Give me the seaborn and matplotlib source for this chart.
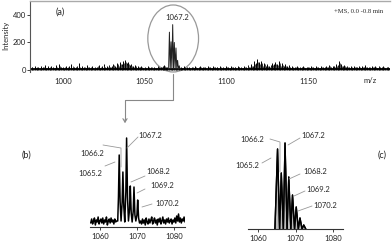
import numpy as np
import pandas as pd
import matplotlib
matplotlib.use("Agg")
import matplotlib.pyplot as plt
from matplotlib.patches import Ellipse, FancyArrowPatch
from matplotlib.lines import Line2D
import seaborn as sns

# ---- data ----
# (a) full scan: baseline noise sticks, every 1 m/z from 980 to 1199
noise_a = [12, 25, 8, 30, 15, 22, 10, 28, 18, 35,
           14, 26, 9, 31, 20, 12, 38, 16, 45, 18,
           22, 10, 30, 14, 26, 40, 12, 24, 18, 30,
           48, 15, 28, 20, 12, 34, 22, 16, 30, 10,
           25, 18, 36, 14, 28, 42, 20, 30, 38, 24,
           32, 45, 28, 50, 36, 55, 40, 62, 72, 48,
           58, 35, 44, 28, 38, 22, 30, 18, 26, 14,
           20, 12, 28, 16, 24, 10, 22, 15, 30, 18,
           25, 30, 38, 22, 18, 8, 6, 5, 6, 8,
           10, 12, 20, 14, 26, 12, 18, 22, 10, 24,
           16, 28, 12, 20, 32, 14, 24, 18, 10, 26,
           20, 14, 30, 18, 24, 12, 28, 16, 22, 14,
           26, 18, 12, 30, 20, 24, 14, 32, 18, 22,
           16, 28, 20, 34, 24, 40, 30, 62, 48, 78,
           55, 66, 40, 52, 30, 44, 28, 36, 48, 40,
           58, 45, 64, 38, 50, 30, 42, 26, 34, 20,
           28, 16, 24, 30, 14, 22, 18, 26, 12, 20,
           24, 14, 30, 18, 12, 26, 20, 16, 28, 22,
           18, 30, 24, 36, 20, 32, 28, 44, 38, 66,
           42, 30, 36, 24, 32, 20, 28, 16, 26, 18,
           22, 30, 14, 26, 20, 34, 18, 24, 12, 28,
           20, 26, 16, 30, 22, 18, 28, 14, 24, 20]
noise_a_mz = np.arange(980, 1200)
# second, offset row of smaller sticks (half-integer m/z)
noise_a2 = [6, 18, 10, 14, 22, 8, 16, 12, 20, 9,
            15, 11, 24, 7, 17, 13, 21, 10, 26, 12,
            8, 19, 14, 22, 9, 16, 28, 11, 18, 13,
            20, 10, 16, 24, 12, 18, 9, 22, 14, 17,
            12, 26, 10, 20, 16, 30, 14, 22, 28, 18,
            26, 34, 20, 40, 28, 44, 30, 50, 56, 36,
            40, 26, 32, 20, 28, 14, 22, 12, 18, 10,
            14, 9, 20, 12, 18, 8, 16, 11, 22, 13,
            18, 22, 28, 16, 12, 6, 4, 4, 5, 6,
            8, 10, 14, 10, 18, 9, 13, 16, 8, 18,
            12, 20, 9, 15, 24, 10, 18, 13, 8, 20,
            15, 10, 22, 13, 18, 9, 20, 12, 16, 10,
            19, 13, 9, 22, 15, 18, 10, 24, 13, 16,
            12, 20, 15, 26, 18, 30, 22, 46, 36, 58,
            42, 50, 30, 40, 22, 32, 20, 26, 36, 30,
            44, 34, 48, 28, 38, 22, 32, 19, 25, 15,
            20, 12, 18, 22, 10, 16, 13, 19, 9, 15,
            18, 10, 22, 13, 9, 19, 15, 12, 20, 16,
            13, 22, 18, 26, 15, 24, 20, 32, 28, 48,
            30, 22, 26, 18, 24, 15, 20, 12, 19, 13,
            16, 22, 10, 19, 15, 25, 13, 18, 9, 20,
            15, 19, 12, 22, 16, 13, 20, 10, 18, 15]
peaks_a_mz = [1064.7, 1065.2, 1065.7, 1066.2, 1066.7, 1067.2, 1067.7, 1068.2,
              1068.7, 1069.2, 1069.7, 1070.2, 1070.7, 1071.2, 1071.7]
peaks_a = [5, 275, 10, 205, 10, 330, 10, 200, 8, 160, 8, 70, 5, 30, 5]

# (b) zoomed experimental profile
noise_b_left_mz = np.arange(1057.5, 1064.6, 0.25)
noise_b_left = [4, 8, 3, 6, 9, 2, 7, 5, 10, 3, 6, 8, 4, 9, 3, 7,
                5, 10, 2, 6, 8, 4, 9, 5, 7, 3, 8, 5, 6]
peaks_b_mz = [1064.8, 1065.0, 1065.2, 1065.45, 1065.7, 1066.0, 1066.2, 1066.45,
              1066.7, 1067.0, 1067.2, 1067.45, 1067.7, 1068.0, 1068.2, 1068.45,
              1068.7, 1069.0, 1069.2, 1069.45, 1069.7, 1070.0, 1070.2, 1070.45,
              1070.7]
peaks_b = [6, 30, 72, 25, 6, 25, 55, 20, 5, 35, 89, 30, 6, 18, 41, 14,
           5, 16, 40, 12, 6, 12, 27, 9, 4]
noise_b_right_mz = np.arange(1071.0, 1083.01, 0.25)
noise_b_right = [6, 3, 8, 4, 7, 2, 9, 5, 3, 8, 4, 7, 10, 3, 6, 9,
                 4, 7, 2, 8, 5, 9, 3, 6, 10, 4, 7, 3, 8, 5, 9, 4,
                 6, 8, 3, 7, 5, 9, 4, 11, 6, 13, 5, 9, 4, 8, 6, 10, 5]

# (c) simulated isotope pattern
peaks_c_mz = [1064.5, 1065.2, 1065.75, 1066.2, 1066.75, 1067.2, 1067.75, 1068.2,
              1068.75, 1069.2, 1069.75, 1070.2, 1070.75, 1071.2, 1071.75, 1072.2,
              1072.75]
peaks_c = [0, 80, 0, 56, 0, 86, 0, 52, 0, 34, 0, 22, 0, 11, 0, 4, 0]

iso_labels = ["1065.2", "1066.2", "1067.2", "1068.2", "1069.2", "1070.2"]

W, H = 392, 243


def px(x, y):
    """pixel (from top-left) -> figure fraction"""
    return x / W, 1 - y / H


sns.set_style("white")
plt.rcParams["font.family"] = ["Lato", "DejaVu Sans"]

fig = plt.figure(figsize=(W / 100, H / 100), dpi=100)

# ---- panel (a) ----
ax_a = fig.add_axes([30 / W, (H - 72) / H, 360 / W, 71 / H])
ax_a.vlines(noise_a_mz, 0, noise_a, color="black", lw=0.7)
ax_a.vlines(noise_a_mz + 0.5, 0, noise_a2, color="#333333", lw=0.6)
ax_a.axhline(4, color="black", lw=1.3)
df_a = pd.DataFrame({"mz": peaks_a_mz, "inten": peaks_a})
sns.lineplot(data=df_a, x="mz", y="inten", ax=ax_a, color="#222222",
             lw=0.7, sort=False)
ax_a.set_xlim(980, 1200)
ax_a.set_ylim(-15, 502)
ax_a.set_xticks([1000, 1050, 1100, 1150])
ax_a.set_yticks([0, 200, 400])
ax_a.set_xlabel("")
ax_a.set_ylabel("")
ax_a.tick_params(axis="x", length=0, pad=4, labelsize=5.5, colors="#222222")
ax_a.tick_params(axis="y", length=2, width=0.6, pad=1, labelsize=5.5,
                 colors="#222222", left=True)
for s in ["right", "bottom"]:
    ax_a.spines[s].set_visible(False)
ax_a.spines["top"].set_color("#aaaaaa")
ax_a.spines["top"].set_linewidth(1.0)
ax_a.spines["left"].set_color("#555555")
ax_a.spines["left"].set_linewidth(0.8)

ax_a.add_patch(Ellipse((1067.5, 229), width=31, height=488, fill=False,
                       edgecolor="#999999", lw=0.9, clip_on=False))
ax_a.text(1070, 360, "1067.2", ha="center", va="bottom", fontsize=5.5)

fig.text(*px(6, 35), "Intensity", rotation=90, ha="center", va="center",
         fontsize=5.5)
fig.text(*px(60, 12), "(a)", ha="center", va="center", fontsize=6.5)
fig.text(*px(370, 80), "m/z", ha="center", va="center", fontsize=5.5)
fig.text(*px(359, 11), "+MS, 0.0 -0.8 min", ha="center", va="center",
         fontsize=4.8, family=["Liberation Serif"])

# connector arrow from (a) to (b)
xs, ys = zip(*[px(173, 74), px(173, 100), px(125, 100), px(125, 120)])
fig.add_artist(Line2D(xs, ys, color="#888888", lw=0.8))
fig.add_artist(FancyArrowPatch(
    px(125, 117), px(125, 126), arrowstyle="->,head_length=2.5,head_width=1.5",
    color="#888888", lw=0.8, transform=fig.transFigure))


def zoom_axes(left, bottom_px, xlim):
    ax = fig.add_axes([left / W, (H - bottom_px) / H, 95 / W, 97 / H])
    ax.set_xlim(*xlim)
    ax.set_ylim(0, 97)
    ax.set_xticks([1060, 1070, 1080])
    ax.set_yticks([])
    for s in ["top", "right", "left"]:
        ax.spines[s].set_visible(False)
    ax.spines["bottom"].set_color("#333333")
    ax.spines["bottom"].set_linewidth(0.8)
    ax.tick_params(axis="x", length=2, width=0.6, pad=2, labelsize=5.5,
                   colors="#222222", bottom=True)
    ax.patch.set_alpha(0)
    return ax


# ---- panel (b) ----
ax_b = zoom_axes(90, 227, (1057.3, 1083))
df_b = pd.DataFrame({
    "mz": np.concatenate([noise_b_left_mz, peaks_b_mz, noise_b_right_mz]),
    "inten": np.concatenate([noise_b_left, peaks_b, noise_b_right])})
sns.lineplot(data=df_b, x="mz", y="inten", ax=ax_b, color="black", lw=1.1,
             sort=False)
ax_b.set_xlabel("")
ax_b.set_ylabel("")

# ---- panel (c) ----
ax_c = zoom_axes(248, 229, (1057.3, 1082.7))
df_c = pd.DataFrame({"mz": peaks_c_mz, "inten": peaks_c})
sns.lineplot(data=df_c, x="mz", y="inten", ax=ax_c, color="black", lw=1.0,
             sort=False)
ax_c.fill_between(df_c["mz"], df_c["inten"], color="#bbbbbb", lw=0)
sns.lineplot(data=df_c, x="mz", y="inten", ax=ax_c, color="black", lw=1.0,
             sort=False)
ax_c.set_xlabel("")
ax_c.set_ylabel("")

fig.text(*px(26, 155), "(b)", ha="center", va="center", fontsize=6.5)
fig.text(*px(382, 155), "(c)", ha="center", va="center", fontsize=6.5)

# peak labels with leader lines (pixel positions)
label_pos_b = [(90, 173), (92, 153), (150, 136), (158, 171), (162, 186), (167, 203)]
leaders_b = [[(105, 166), (115, 162)],
             [(103, 145), (121, 148), (121, 167)],
             [(138, 137), (127, 148)],
             [(145, 176), (131, 182)],
             [(145, 189), (137, 193)],
             [(152, 204), (142, 207)]]
label_pos_c = [(247, 165), (252, 139), (313, 136), (315, 171), (318, 189), (325, 205)]
leaders_c = [[(262, 163), (271, 158)],
             [(270, 139), (280, 142), (280, 172)],
             [(300, 138), (288, 145)],
             [(300, 174), (289, 179)],
             [(305, 191), (294, 196)],
             [(312, 206), (298, 211)]]

for positions, leaders in [(label_pos_b, leaders_b), (label_pos_c, leaders_c)]:
    for lab, pos, pts in zip(iso_labels, positions, leaders):
        fig.text(*px(*pos), lab, ha="center", va="center", fontsize=5.5)
        lx, ly = zip(*[px(*p) for p in pts])
        fig.add_artist(Line2D(lx, ly, color="#999999", lw=0.6))

fig.savefig("out.png", dpi=100)
